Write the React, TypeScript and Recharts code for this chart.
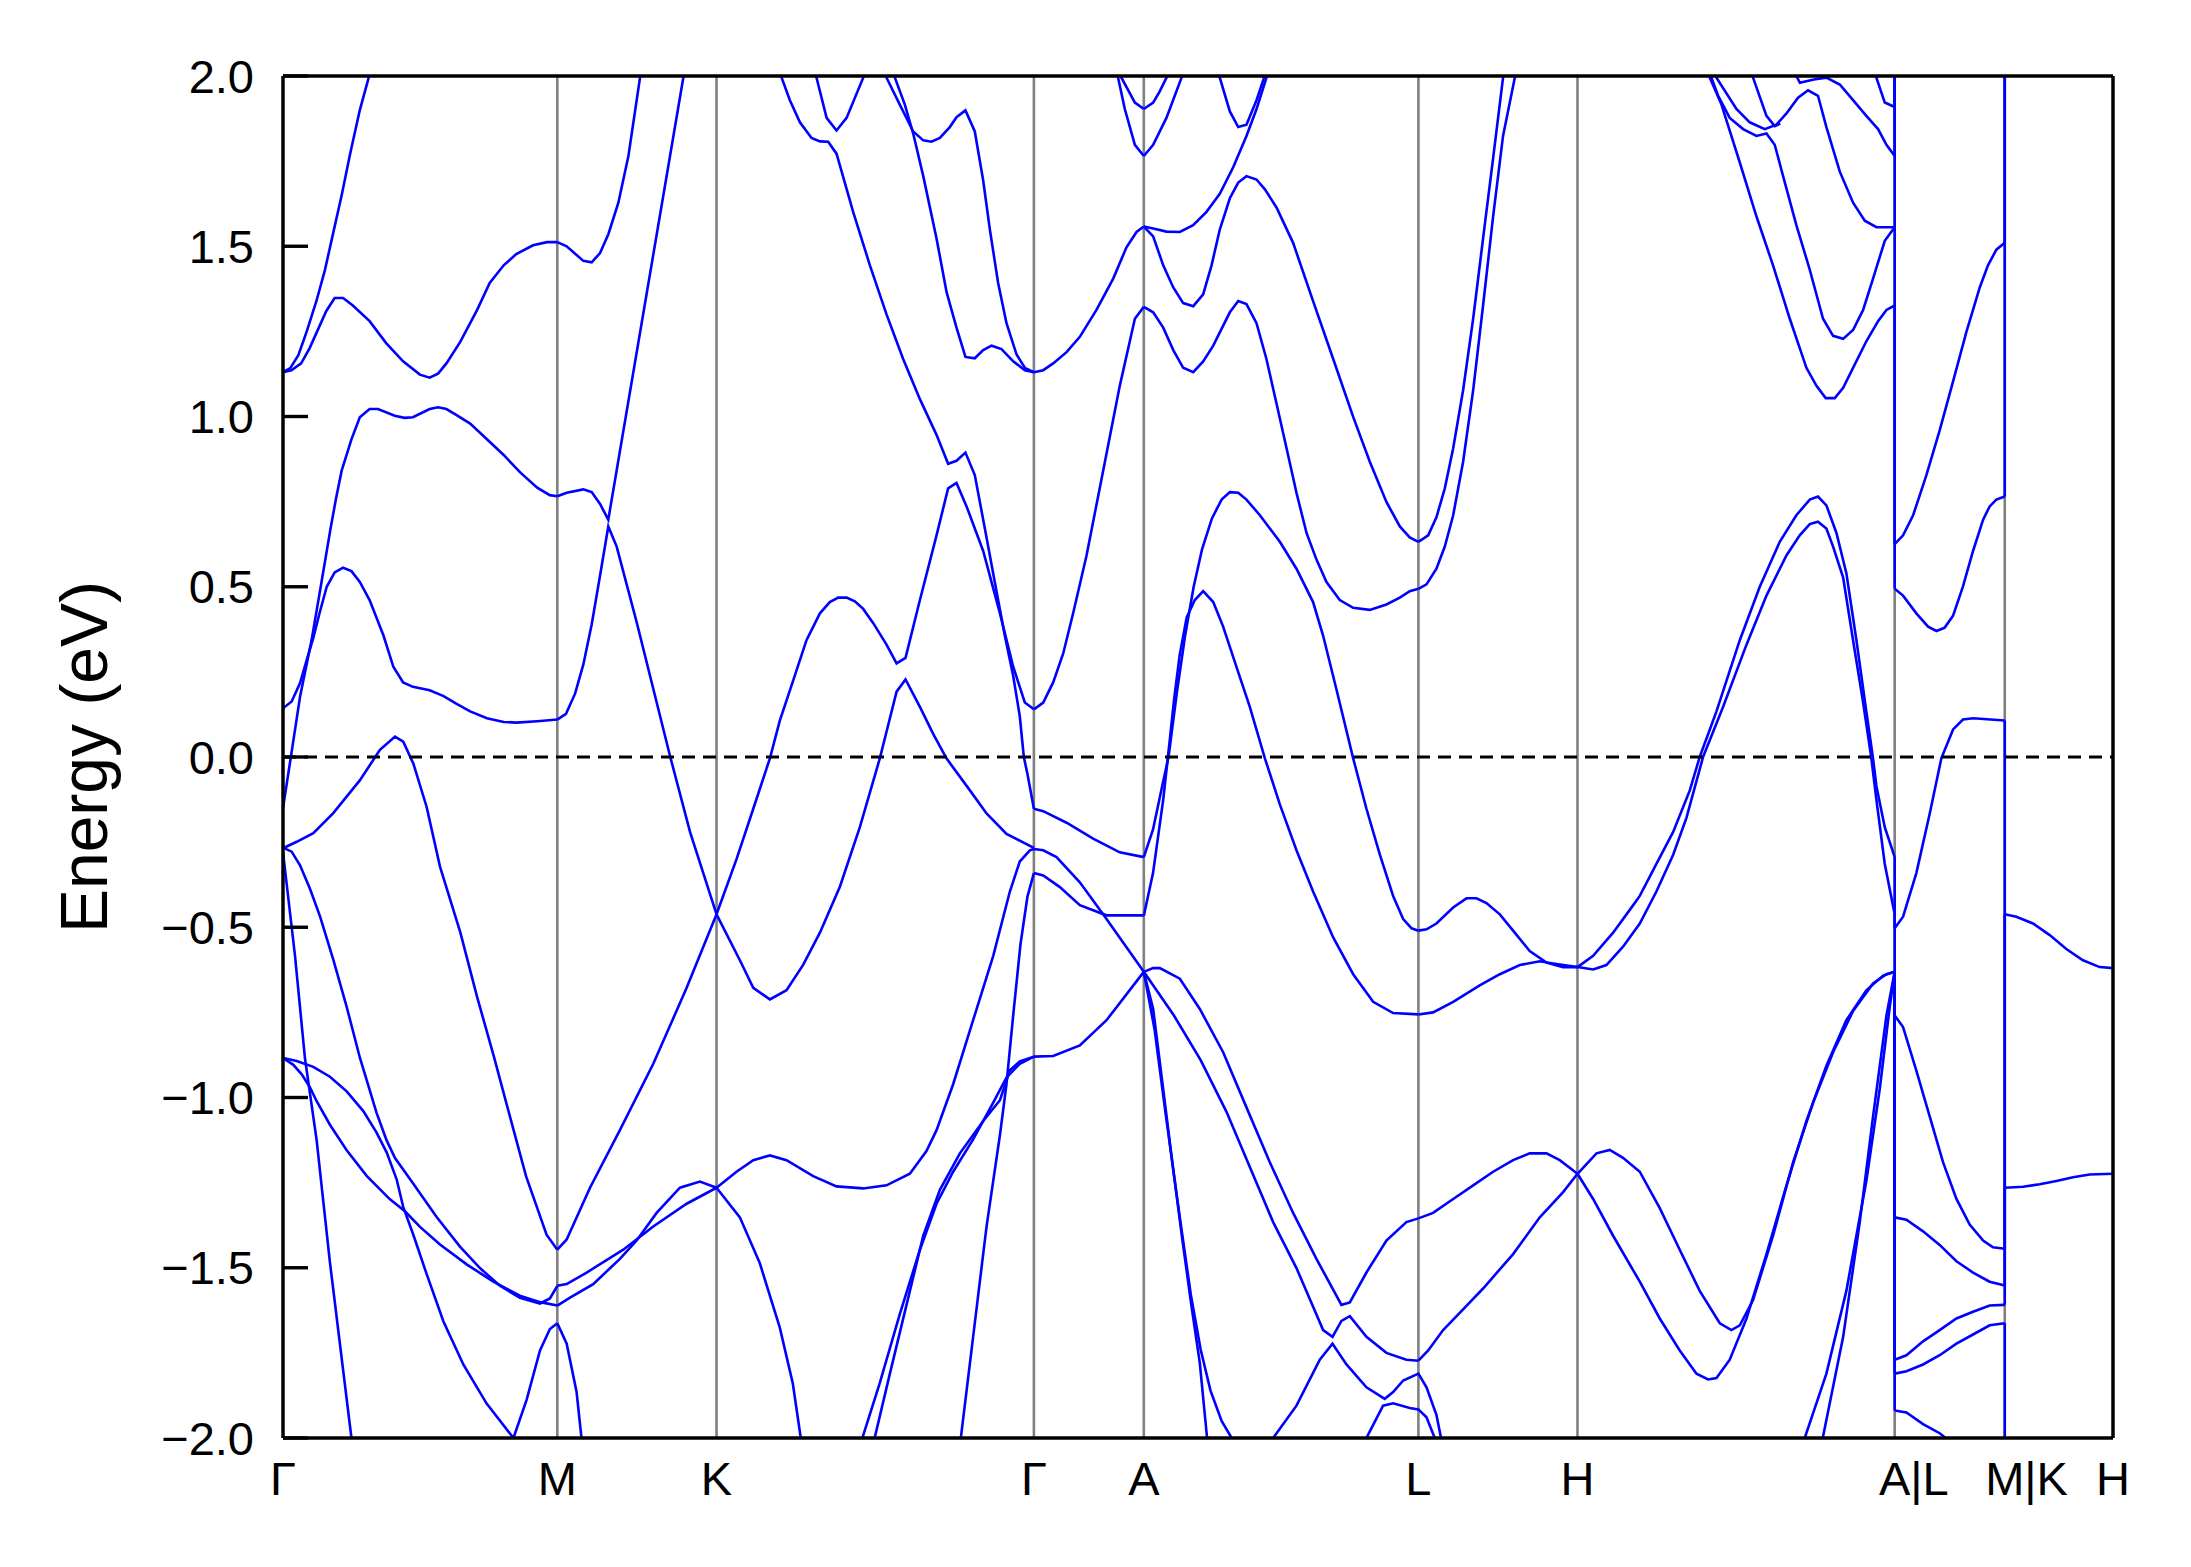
import React from 'react';
import { LineChart, Line, XAxis, YAxis, CartesianGrid, ReferenceLine } from 'recharts';

type Pt = [number, number];

const FONT = '"Liberation Sans", Arial, Helvetica, sans-serif';

// high-symmetry points along the k-path (arb. units)
const kTicks = [0, 196.4, 310.4, 537.6, 616.3, 812.9, 926.8, 1153.9, 1232.7, 1310.2];
const kLabels = ['Γ', 'M', 'K', 'Γ', 'A', 'L', 'H', 'A|L', 'M|K', 'H'];
const eTicks = [-2, -1.5, -1, -0.5, 0, 0.5, 1, 1.5, 2];

// Γ – M
const bandsGM: Pt[][] = [
  [[0,1.13],[5.2,1.142],[11,1.18],[17,1.25],[24,1.34],[30,1.43],[36,1.54],[42,1.65],[48,1.77],[55,1.9],[61,1.99],[64,2.05]],
  [[0,1.13],[6,1.136],[13,1.156],[19,1.2],[31,1.31],[37,1.348],[43,1.348],[50,1.326],[62,1.28],[74,1.215],[86,1.162],[98,1.123],[105,1.114],[111,1.126],[117,1.156],[127,1.22],[139,1.313],[148,1.392],[158,1.444],[167,1.477],[179,1.503],[189,1.512],[196.4,1.512]],
  [[0,0.143],[6.2,0.163],[12.2,0.217],[17,0.285],[21.7,0.35],[26,0.42],[31.3,0.5],[37,0.542],[43,0.556],[49,0.546],[55,0.514],[62,0.461],[72,0.356],[79,0.265],[86,0.219],[93,0.206],[105,0.196],[115,0.179],[124,0.157],[134,0.134],[146,0.114],[158,0.103],[167,0.101],[182,0.105],[196.4,0.11]],
  [[0,-0.15],[6,0.01],[12.2,0.177],[20.5,0.344],[27,0.5],[34,0.67],[38,0.76],[42,0.841],[49,0.933],[55,0.998],[62,1.022],[68,1.022],[80,1.002],[87,0.996],[93,0.998],[105,1.022],[111,1.027],[117,1.022],[124,1.005],[134,0.979],[146,0.933],[158,0.887],[170,0.835],[182,0.791],[191,0.769],[196.4,0.766]],
  [[0,-0.268],[9.8,-0.249],[21.7,-0.224],[36,-0.165],[55.1,-0.068],[69.4,0.021],[80.2,0.06],[86.1,0.045],[93.3,-0.019],[102.8,-0.146],[112.4,-0.322],[127,-0.516],[139,-0.705],[151,-0.88],[162.5,-1.056],[174,-1.231],[188.7,-1.403],[196.4,-1.447]],
  [[0,-0.266],[6.2,-0.278],[12.2,-0.318],[19.3,-0.387],[26.5,-0.468],[36,-0.595],[45.6,-0.734],[55.1,-0.884],[67,-1.045],[74.2,-1.126],[80.2,-1.178],[93.3,-1.253],[110,-1.351],[126.7,-1.438],[141,-1.501],[155.3,-1.553],[169.6,-1.588],[184,-1.605],[191.1,-1.59],[196.4,-1.553]],
  [[0,-0.884],[9.8,-0.893],[21.7,-0.91],[33.6,-0.939],[45.6,-0.982],[57.5,-1.04],[67,-1.103],[74.2,-1.161],[81.4,-1.241],[86.1,-1.322],[93.3,-1.403],[102.8,-1.518],[114.8,-1.657],[129.1,-1.784],[145.8,-1.899],[165,-2.0],[174.4,-1.888],[184,-1.743],[191.1,-1.68],[196.4,-1.663]],
  [[0,-0.884],[7.4,-0.904],[13.4,-0.932],[19.3,-0.97],[24.1,-1.011],[33.6,-1.08],[45.6,-1.155],[59.9,-1.23],[76.6,-1.299],[87.3,-1.334],[98.1,-1.38],[112.4,-1.432],[131.5,-1.49],[150.6,-1.541],[169.6,-1.582],[184,-1.601],[196.4,-1.611]],
  [[0,-0.28],[8.6,-0.584],[15.7,-0.884],[24.1,-1.126],[33.6,-1.484],[49,-2.0],[50,-2.05]],
];

// M – K
const bandsMK: Pt[][] = [
  [[196.4,1.512],[203.1,1.5],[215,1.457],[221,1.453],[227,1.48],[233,1.536],[240.1,1.628],[247.3,1.765],[255.6,1.995],[257,2.05]],
  [[196.4,0.766],[203.1,0.776],[215,0.786],[221,0.778],[227,0.743],[232.9,0.697],[286.6,1.995],[288,2.03]],
  [[196.4,0.11],[202.6,0.127],[209.1,0.186],[215,0.271],[221,0.389],[227,0.533],[232.9,0.677],[238.9,0.618],[253.2,0.396],[277.1,0.003],[291.4,-0.22],[310.4,-0.462]],
  [[196.4,-1.447],[203.1,-1.417],[219.8,-1.265],[241.2,-1.096],[265.1,-0.901],[289,-0.678],[310.4,-0.462]],
  [[196.4,-1.553],[203.1,-1.548],[217.4,-1.514],[243.6,-1.447],[265.1,-1.379],[289,-1.312],[310.4,-1.265]],
  [[196.4,-1.611],[205.5,-1.588],[222.1,-1.548],[241.2,-1.474],[253.2,-1.42],[267.5,-1.339],[284.2,-1.265],[298.5,-1.247],[310.4,-1.265]],
  [[196.4,-1.663],[203.1,-1.723],[210.2,-1.865],[213.7,-2.0],[214.5,-2.05]],
];

// K – Γ
const bandsKG: Pt[][] = [
  [[354,2.05],[357,1.995],[362.9,1.929],[370.1,1.864],[378.4,1.818],[384.4,1.808],[390.3,1.807],[396.3,1.772],[408.2,1.601],[420.2,1.444],[432.1,1.3],[444,1.169],[456,1.051],[467.9,0.946],[476.2,0.861],[482.2,0.87],[488.6,0.894],[495.3,0.828],[502.5,0.671],[509.6,0.514],[516.8,0.356],[522.8,0.238],[527.5,0.12],[530.4,0.0],[533,-0.05],[537.6,-0.152]],
  [[379,2.06],[382,1.995],[389.2,1.877],[396.3,1.84],[403.5,1.877],[415.4,1.995],[418,2.06]],
  [[429,2.06],[432.1,1.995],[441.6,1.916],[451.2,1.837],[458.4,1.811],[464.3,1.807],[470.3,1.818],[477.4,1.85],[482.2,1.879],[488.6,1.899],[495.3,1.837],[501.3,1.693],[506.1,1.549],[512,1.392],[518,1.274],[525.2,1.182],[531.1,1.143],[537.6,1.13]],
  [[436,2.06],[438.1,1.995],[445.2,1.916],[451.2,1.831],[458.4,1.706],[467.9,1.523],[475.1,1.365],[482.2,1.261],[488.6,1.175],[495.3,1.171],[501.3,1.195],[507.3,1.208],[514.4,1.198],[522.8,1.162],[531.1,1.136],[537.6,1.13]],
  [[310.4,-0.462],[324.7,-0.3],[336.7,-0.152],[348.6,-0.004],[355.7,0.107],[365.3,0.225],[374.8,0.343],[384.4,0.422],[391.5,0.455],[397.5,0.468],[403.5,0.468],[409.4,0.457],[415.4,0.435],[422.6,0.393],[432.1,0.33],[439.3,0.275],[445.7,0.291],[456,0.461],[467.9,0.651],[476.2,0.789],[482.2,0.805],[489.4,0.736],[501.3,0.605],[513.3,0.422],[522.8,0.265],[531.1,0.16],[537.6,0.14]],
  [[310.4,-0.462],[327.1,-0.597],[336.7,-0.678],[348.6,-0.712],[360.5,-0.685],[372.5,-0.61],[384.4,-0.516],[398.7,-0.381],[413,-0.206],[427.3,-0.004],[433.3,0.094],[439.3,0.192],[445.7,0.228],[456,0.147],[465.5,0.068],[475,-0.004],[491.8,-0.098],[503.7,-0.166],[518,-0.226],[537.6,-0.267]],
  [[310.4,-1.265],[324.7,-1.218],[336.7,-1.184],[348.6,-1.17],[360.5,-1.184],[379.6,-1.231],[396.3,-1.261],[415.4,-1.267],[432.1,-1.258],[448.8,-1.224],[460.7,-1.157],[467.9,-1.096],[479.8,-0.961],[494.1,-0.773],[508.5,-0.584],[520.4,-0.395],[527.5,-0.307],[534.7,-0.274],[537.6,-0.27]],
  [[310.4,-1.265],[327.1,-1.352],[341.4,-1.487],[355.7,-1.676],[365,-1.84],[370.7,-2.0],[371.5,-2.05]],
  [[413.5,-2.05],[414.8,-2.0],[427.3,-1.838],[441.6,-1.636],[456,-1.447],[467.9,-1.312],[479.8,-1.218],[494.1,-1.123],[508.5,-1.015],[518,-0.941],[527.5,-0.901],[537.6,-0.88]],
  [[422.5,-2.05],[423.6,-2.0],[434.5,-1.811],[446.4,-1.609],[458.4,-1.406],[470.3,-1.271],[484.6,-1.164],[501.3,-1.069],[513.3,-1.008],[520.4,-0.92],[527.5,-0.894],[537.6,-0.88]],
  [[484.3,-2.05],[485.3,-2.0],[494.1,-1.703],[503.7,-1.379],[513.3,-1.11],[518,-0.96],[523,-0.75],[528,-0.55],[533,-0.41],[537.6,-0.341]],
];

// Γ – A
const bandsGA: Pt[][] = [
  [[537.6,1.13],[544.3,1.136],[551.4,1.156],[561,1.189],[570.5,1.234],[582.4,1.313],[594.4,1.405],[603.9,1.497],[611.1,1.542],[616.3,1.558]],
  [[537.6,0.14],[544.3,0.16],[551.4,0.219],[558.6,0.304],[565.7,0.422],[575.3,0.592],[587.2,0.841],[599.1,1.09],[609.9,1.287],[616.3,1.322]],
  [[595,2.06],[597.9,1.995],[602.7,1.903],[609.9,1.798],[616.3,1.765]],
  [[598,2.04],[600.3,1.995],[609.9,1.922],[616.3,1.903]],
  [[537.6,-0.152],[544.3,-0.159],[561,-0.193],[580,-0.24],[599.1,-0.28],[616.3,-0.294]],
  [[537.6,-0.27],[544.3,-0.274],[553.8,-0.294],[570.5,-0.368],[589.6,-0.476],[616.3,-0.631]],
  [[537.6,-0.341],[544.3,-0.348],[556.2,-0.382],[570.5,-0.435],[589.6,-0.465],[616.3,-0.465]],
  [[537.6,-0.88],[551.4,-0.878],[570.5,-0.847],[589.6,-0.773],[616.3,-0.631]],
];

// A – L
const bandsAL: Pt[][] = [
  [[616.3,1.765],[623,1.798],[632.5,1.877],[643.3,1.995],[645,2.03]],
  [[616.3,1.903],[623,1.922],[627.7,1.955],[632.5,1.995],[634,2.02]],
  [[616.3,1.558],[623,1.552],[632.5,1.543],[642.1,1.542],[651.6,1.562],[661.2,1.601],[670.7,1.654],[680.3,1.732],[689.8,1.824],[697,1.903],[704.1,1.995],[706,2.03]],
  [[616.3,1.558],[623,1.529],[630.2,1.444],[637.4,1.379],[644.5,1.333],[651.7,1.324],[658.8,1.359],[664.8,1.444],[670.7,1.549],[677.9,1.641],[683.9,1.687],[689.8,1.706],[697,1.696],[703,1.667],[711.3,1.614],[723.2,1.51],[737.5,1.339],[751.9,1.169],[766.2,0.999],[778.1,0.867],[790,0.749],[799.6,0.677],[806.7,0.645],[812.9,0.632]],
  [[616.3,1.322],[623,1.306],[630.2,1.261],[637.4,1.195],[644.5,1.143],[651.7,1.13],[658.8,1.162],[666,1.208],[677.9,1.306],[683.9,1.339],[689.8,1.33],[697,1.274],[704.1,1.169],[711.3,1.038],[718.5,0.907],[725.6,0.776],[732.8,0.658],[740,0.579],[747.1,0.514],[756.6,0.461],[766.2,0.438],[778.1,0.432],[790,0.448],[799.6,0.468],[806.7,0.487],[812.9,0.494]],
  [[669,2.04],[670.7,1.995],[677.9,1.896],[683.9,1.85],[689.8,1.857],[697,1.929],[702,1.99],[703,2.01]],
  [[616.3,-0.294],[622.9,-0.213],[630.2,-0.071],[634,0.0],[640,0.19],[646,0.36],[652,0.5],[658,0.61],[665,0.7],[672,0.756],[677.9,0.778],[683.9,0.776],[689.8,0.756],[699.4,0.71],[713.7,0.632],[725.6,0.553],[737.5,0.455],[744.7,0.356],[754.2,0.199],[766.2,-0.004],[775.7,-0.152],[785.3,-0.287],[794.8,-0.408],[802,-0.476],[808,-0.503],[812.9,-0.51]],
  [[616.3,-0.466],[622.9,-0.341],[630.2,-0.125],[634.9,0.05],[638,0.17],[642,0.3],[647,0.41],[652.8,0.461],[658.8,0.487],[666,0.455],[673.1,0.383],[682.7,0.264],[692.2,0.147],[703,-0.004],[713.7,-0.139],[725.6,-0.274],[737.5,-0.395],[751.9,-0.53],[766.2,-0.638],[780.5,-0.719],[794.8,-0.752],[812.9,-0.756]],
  [[616.3,-0.631],[622.9,-0.62],[627.8,-0.62],[642.1,-0.651],[656.4,-0.74],[673.1,-0.867],[689.8,-1.029],[706.5,-1.19],[723.2,-1.339],[739.9,-1.474],[757.8,-1.609],[763.8,-1.602],[775.7,-1.514],[790,-1.42],[804.3,-1.366],[812.9,-1.355]],
  [[616.3,-0.631],[638,-0.76],[657,-0.89],[675.5,-1.042],[692.2,-1.204],[708.9,-1.366],[725.6,-1.501],[744.7,-1.683],[751.4,-1.703],[757.8,-1.656],[763.8,-1.642],[775.7,-1.703],[790,-1.75],[804.3,-1.77],[812.9,-1.773]],
  [[616.3,-0.631],[623,-0.74],[630,-0.97],[637,-1.2],[644,-1.42],[650,-1.6],[656.4,-1.78],[661.6,-2.0],[662.5,-2.05]],
  [[616.3,-0.631],[624,-0.8],[632,-1.05],[642,-1.35],[650,-1.58],[657,-1.74],[664,-1.86],[672,-1.95],[679.2,-2.0],[681,-2.03]],
  [[707.5,-2.03],[708.9,-2.0],[725.6,-1.905],[742.3,-1.77],[751.4,-1.723],[761.4,-1.784],[775.7,-1.851],[788.8,-1.885],[794.8,-1.865],[802,-1.831],[812.9,-1.811],[818.7,-1.851],[825.8,-1.932],[829.1,-2.0],[830,-2.03]],
  [[774,-2.03],[775.7,-2.0],[787.6,-1.905],[794.8,-1.898],[806.7,-1.912],[812.9,-1.916],[818.7,-1.939],[824.6,-2.0],[825.5,-2.03]],
];

// L – H
const bandsLH: Pt[][] = [
  [[812.9,0.632],[819.9,0.651],[825.8,0.704],[831.8,0.789],[837.8,0.907],[844.9,1.077],[852.1,1.287],[859.2,1.523],[866.4,1.759],[873.5,1.995],[875,2.04]],
  [[812.9,0.494],[818.7,0.507],[825.8,0.553],[831.8,0.618],[837.8,0.71],[844.9,0.867],[852.1,1.077],[859.2,1.326],[866.4,1.588],[873.5,1.824],[881.9,1.995],[883,2.03]],
  [[812.9,-0.51],[818.7,-0.506],[825.8,-0.489],[837.8,-0.442],[847.3,-0.415],[854.5,-0.415],[861.6,-0.429],[871.2,-0.462],[880.7,-0.51],[892.6,-0.57],[904.6,-0.604],[916.5,-0.617],[926.8,-0.617]],
  [[812.9,-0.756],[823.4,-0.75],[837.8,-0.719],[856.8,-0.671],[871.2,-0.638],[885.5,-0.611],[899.8,-0.6],[911.7,-0.608],[926.8,-0.617]],
  [[812.9,-1.355],[823.4,-1.339],[837.8,-1.298],[852.1,-1.258],[866.4,-1.218],[880.7,-1.184],[892.6,-1.164],[904.6,-1.164],[914.1,-1.184],[926.8,-1.224]],
  [[812.9,-1.773],[819.9,-1.743],[830.6,-1.683],[844.9,-1.622],[859.2,-1.561],[880.7,-1.46],[899.8,-1.352],[916.5,-1.278],[926.8,-1.224]],
];

// H – A
const bandsHA: Pt[][] = [
  [[926.8,-0.617],[938,-0.584],[952.3,-0.516],[966.7,-0.435],[971.4,-0.408],[983.3,-0.314],[995.3,-0.22],[1007.2,-0.098],[1014.3,0.0],[1026.3,0.134],[1043,0.343],[1057.3,0.5],[1071.6,0.632],[1083.5,0.71],[1093.1,0.756],[1099,0.765],[1105,0.739],[1112.2,0.658],[1119.3,0.54],[1126.5,0.343],[1133.6,0.134],[1138.4,-0.004],[1140.8,-0.085],[1146.8,-0.206],[1153.9,-0.294]],
  [[926.8,-0.617],[938,-0.624],[947.5,-0.611],[959.4,-0.557],[971.4,-0.489],[983.3,-0.395],[995.3,-0.287],[1004.8,-0.179],[1016.7,0.0],[1031,0.147],[1047.8,0.33],[1062.1,0.474],[1076.4,0.592],[1085.9,0.651],[1093.1,0.684],[1099,0.691],[1105,0.671],[1109.8,0.618],[1117,0.527],[1124.1,0.343],[1131.3,0.16],[1137.2,-0.004],[1140.8,-0.125],[1146.8,-0.314],[1153.9,-0.462]],
  [[926.8,-1.224],[940.4,-1.164],[949.9,-1.154],[959.4,-1.177],[971.4,-1.218],[985.7,-1.325],[1000,-1.447],[1014.3,-1.568],[1028.7,-1.663],[1037,-1.683],[1043,-1.669],[1052.5,-1.595],[1066.8,-1.406],[1081.2,-1.19],[1095.5,-1.015],[1109.8,-0.867],[1124.1,-0.746],[1138.4,-0.665],[1148,-0.638],[1153.9,-0.631]],
  [[926.8,-1.224],[938,-1.298],[952.3,-1.406],[971.4,-1.541],[985.7,-1.649],[1000,-1.743],[1012,-1.811],[1020.3,-1.828],[1026.3,-1.824],[1035.8,-1.77],[1047.8,-1.649],[1062.1,-1.46],[1076.4,-1.258],[1090.7,-1.069],[1105,-0.907],[1119.3,-0.773],[1133.6,-0.685],[1145.6,-0.642],[1153.9,-0.631]],
  [[1088,-2.05],[1089.5,-2.0],[1105,-1.811],[1119.3,-1.568],[1133.6,-1.245],[1143.2,-0.975],[1150.4,-0.732],[1153.9,-0.631]],
  [[1101,-2.03],[1102.4,-2.0],[1117,-1.703],[1128.9,-1.366],[1138.4,-1.056],[1148,-0.759],[1153.9,-0.631]],
  [[1019,2.04],[1021.5,1.995],[1029.9,1.916],[1043,1.746],[1054.9,1.588],[1066.8,1.444],[1078.8,1.287],[1090.7,1.143],[1097.9,1.09],[1104.5,1.054],[1111,1.054],[1117,1.084],[1124.1,1.143],[1133.6,1.221],[1142,1.28],[1148,1.313],[1153.9,1.326]],
  [[1020,2.03],[1022.7,1.995],[1027.5,1.942],[1035.8,1.877],[1045.4,1.844],[1054.9,1.824],[1062.1,1.831],[1068,1.798],[1074,1.706],[1083.5,1.562],[1093.1,1.431],[1102.6,1.287],[1109.8,1.237],[1117,1.228],[1124.1,1.254],[1131.3,1.313],[1138.4,1.405],[1146.8,1.516],[1153.9,1.556]],
  [[1024,2.03],[1026.3,1.995],[1040.6,1.903],[1050.1,1.864],[1060.9,1.844],[1069.2,1.857],[1076.4,1.89],[1084.7,1.936],[1091.9,1.958],[1099,1.942],[1105,1.85],[1114.6,1.719],[1124.1,1.628],[1132.5,1.575],[1140.8,1.556],[1153.9,1.556]],
  [[1050,2.03],[1052.5,1.995],[1062.1,1.883],[1068,1.853],[1072,1.86]],
  [[1080,2.03],[1086,1.98],[1096,1.99],[1105,1.995],[1114.6,1.975],[1124.1,1.929],[1133.6,1.883],[1142,1.844],[1148,1.798],[1153.9,1.765]],
  [[1139,2.03],[1140.8,1.995],[1146.8,1.922],[1153.9,1.909]],
];

// L – M (after the A|L break)
const bandsLM: Pt[][] = [
  [[1153.9,0.625],[1159.9,0.651],[1167.1,0.71],[1176.6,0.828],[1186.1,0.959],[1195.7,1.103],[1205.2,1.248],[1214.8,1.379],[1220.7,1.444],[1226.7,1.49],[1232.7,1.51]],
  [[1153.9,0.494],[1159.9,0.474],[1169.4,0.422],[1177.8,0.383],[1183.8,0.37],[1189.7,0.38],[1195.7,0.415],[1202.8,0.501],[1210,0.605],[1217.2,0.697],[1221.9,0.736],[1226.7,0.756],[1232.7,0.765]],
  [[1153.9,-0.503],[1159.9,-0.469],[1169.4,-0.341],[1179,-0.166],[1187.3,-0.004],[1195.7,0.081],[1202.8,0.11],[1210,0.114],[1232.7,0.107]],
  [[1153.9,-0.759],[1159.9,-0.793],[1169.4,-0.921],[1179,-1.056],[1188.5,-1.19],[1198.1,-1.298],[1207.6,-1.373],[1217.2,-1.42],[1224.3,-1.44],[1232.7,-1.444]],
  [[1153.9,-1.352],[1162.3,-1.359],[1174.2,-1.393],[1186.1,-1.433],[1198.1,-1.481],[1210,-1.514],[1221.9,-1.541],[1232.7,-1.552]],
  [[1153.9,-1.77],[1162.3,-1.757],[1174.2,-1.716],[1186.1,-1.683],[1198.1,-1.649],[1210,-1.629],[1221.9,-1.611],[1232.7,-1.609]],
  [[1153.9,-1.811],[1162.3,-1.804],[1174.2,-1.784],[1186.1,-1.757],[1198.1,-1.723],[1210,-1.696],[1221.9,-1.669],[1232.7,-1.663]],
  [[1153.9,-1.919],[1162.3,-1.925],[1174.2,-1.959],[1186.1,-1.986],[1190.5,-2.0],[1192,-2.02]],
];

// K – H (after the M|K break)
const bandsKH: Pt[][] = [
  [[1232.7,-0.462],[1241,-0.469],[1252.9,-0.489],[1264.9,-0.523],[1276.8,-0.564],[1288.7,-0.597],[1300.7,-0.617],[1310.2,-0.62]],
  [[1232.7,-1.265],[1245.8,-1.262],[1257.7,-1.255],[1269.7,-1.245],[1281.6,-1.234],[1293.5,-1.226],[1310.2,-1.224]],
];

// band jumps at the path breaks: [energy before break, energy after break]
const jumpsAL: Pt[] = [[1.909,2.1],[1.765,2.1],[1.556,2.1],[1.556,0.625],[1.326,0.494],[-0.294,-0.503],[-0.462,-0.759],[-0.631,-1.352],[-0.631,-1.77],[-0.631,-1.811],[-0.631,-1.919]];
const jumpsMK: Pt[] = [[1.51,2.1],[0.765,2.1],[0.107,-1.265],[-1.444,-0.462],[-1.552,-1.265],[-1.609,-1.265],[-1.663,-2.1]];

const allBands: Pt[][] = [
  ...bandsGM, ...bandsMK, ...bandsKG, ...bandsGA, ...bandsAL,
  ...bandsLH, ...bandsHA, ...bandsLM, ...bandsKH,
  ...jumpsAL.map(([a, b]) => [[kTicks[7], a], [kTicks[7], b]] as Pt[]),
  ...jumpsMK.map(([a, b]) => [[kTicks[8], a], [kTicks[8], b]] as Pt[]),
];

const fmtE = (v: number) => (v < 0 ? '\u2212' : '') + Math.abs(v).toFixed(1);

const XTick = (props: any) => {
  const { x, y, payload } = props;
  const i = kTicks.indexOf(payload.value);
  const label = kLabels[i] ?? '';
  const composite = label.indexOf('|') > 0;
  const half = label[0] === 'M' ? '-0.4165em' : '-0.3335em';
  return (
    <text
      x={x}
      y={y}
      dy="0.71em"
      dx={composite ? half : 0}
      textAnchor={composite ? 'start' : 'middle'}
      fontSize={47}
      fontFamily={FONT}
      fill="#000"
    >
      {label}
    </text>
  );
};

const YLabel = (props: any) => {
  const vb = props.viewBox || { x: 0, y: 76, width: 283, height: 1362 };
  const cx = vb.x + 84;
  const cy = vb.y + vb.height / 2;
  return (
    <text
      x={cx}
      y={cy}
      dy="0.355em"
      textAnchor="middle"
      transform={`rotate(-90, ${cx}, ${cy})`}
      fontSize={66}
      fontFamily={FONT}
      fill="#000"
    >
      Energy (eV)
    </text>
  );
};

export default function App() {
  return (
    <div style={{ position: 'absolute', left: 0, top: 0, width: 2191, height: 1567, background: '#fff' }}>
      <LineChart width={2191} height={1567} margin={{ top: 76, right: 78, bottom: 69, left: 0 }}>
        <CartesianGrid horizontal={false} vertical={true} stroke="#808080" strokeWidth={2.6} />
        <XAxis
          dataKey="k"
          type="number"
          domain={[kTicks[0], kTicks[kTicks.length - 1]]}
          ticks={kTicks}
          interval={0}
          allowDataOverflow
          height={60}
          tickSize={0}
          tickMargin={24}
          tick={<XTick />}
          axisLine={{ stroke: '#000', strokeWidth: 3.4 }}
          tickLine={false}
        />
        <YAxis
          type="number"
          domain={[-2, 2]}
          ticks={eTicks}
          interval={0}
          allowDataOverflow
          width={283}
          tickSize={-25}
          tickMargin={54}
          tickFormatter={fmtE}
          tick={{ fontSize: 47, fill: '#000', fontFamily: FONT }}
          tickLine={{ stroke: '#000', strokeWidth: 3.4 }}
          axisLine={{ stroke: '#000', strokeWidth: 3.4 }}
          label={{ content: (p: any) => <YLabel {...p} /> }}
        />
        {allBands.map((pts, i) => (
          <Line
            key={i}
            data={pts.map(([k, e]) => ({ k, e }))}
            dataKey="e"
            type="linear"
            stroke="#0000ff"
            strokeWidth={2.6}
            dot={false}
            activeDot={false}
            isAnimationActive={false}
          />
        ))}
        <ReferenceLine y={0} stroke="#000" strokeWidth={3} strokeDasharray="13 8" />
        <ReferenceLine y={2} stroke="#000" strokeWidth={3.4} />
        <ReferenceLine x={kTicks[kTicks.length - 1]} stroke="#000" strokeWidth={3.4} />
      </LineChart>
    </div>
  );
}
